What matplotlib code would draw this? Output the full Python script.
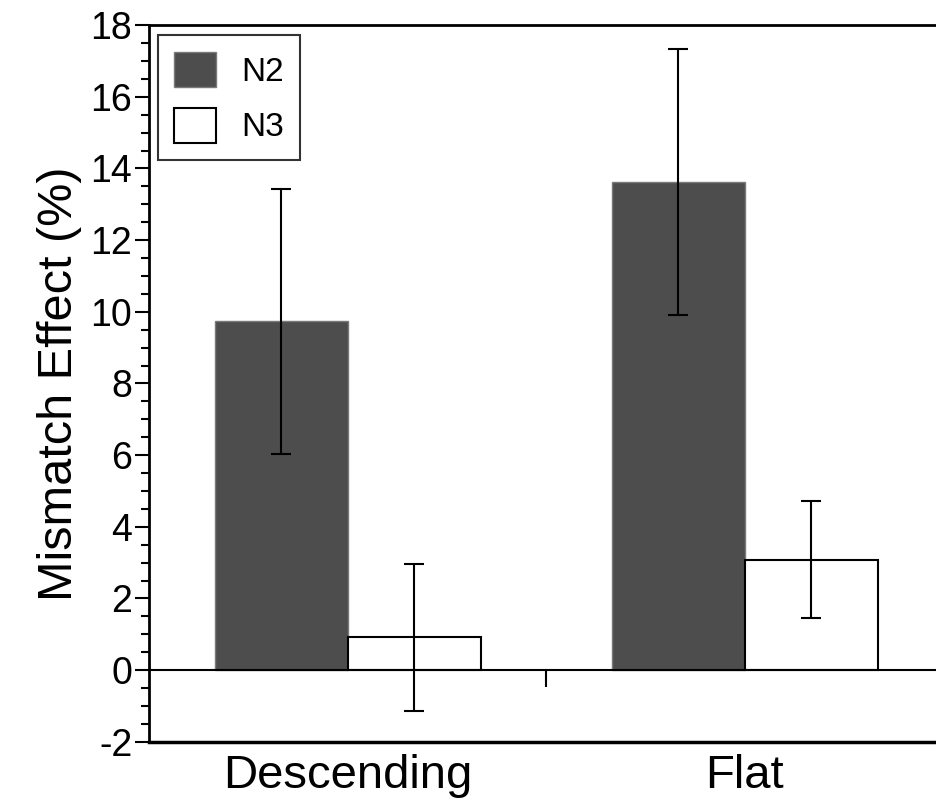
import numpy as np
import matplotlib.pyplot as plt
import matplotlib.transforms as mtransforms

plt.rcParams['font.family'] = ['Liberation Sans', 'DejaVu Sans']
plt.rcParams['axes.unicode_minus'] = False

# data
conditions = ['Descending', 'Flat']
n2_mean = [9.73, 13.62]
n2_err = [3.69, 3.71]
n3_mean = [0.92, 3.08]
n3_err = [2.05, 1.63]

fig = plt.figure(figsize=(9.37, 8.09), dpi=100)
ax = fig.add_axes([0.159, 0.083, 0.841, 0.886])

x = np.arange(len(conditions))
width = 0.335

ax.bar(x - width / 2, n2_mean, width, color='#4d4d4d', edgecolor='#7a7a7a',
       linewidth=1, label='N2', zorder=2)
ax.bar(x + width / 2, n3_mean, width, color='white', edgecolor='black',
       linewidth=1.5, label='N3', zorder=2)
ax.errorbar(x - width / 2, n2_mean, yerr=n2_err, fmt='none', ecolor='black',
            elinewidth=1.5, capsize=7, capthick=1.5, zorder=3)
ax.errorbar(x + width / 2, n3_mean, yerr=n3_err, fmt='none', ecolor='black',
            elinewidth=1.5, capsize=7, capthick=1.5, zorder=3)

ax.set_xlim(-0.501, 1.484)
ax.set_ylim(-2, 18)

# y axis ticks
ax.set_yticks(np.arange(-2, 19, 2))
ax.set_yticks(np.arange(-2, 18.1, 0.5), minor=True)
ax.tick_params(axis='y', which='major', direction='out', length=10, width=1.5,
               labelsize=27, pad=2)
ax.tick_params(axis='y', which='minor', direction='out', length=6, width=1.5)

# x axis sits on zero, with a single tick between the groups
ax.spines['bottom'].set_position(('data', 0))
ax.spines['bottom'].set_linewidth(1.5)
ax.set_xticks([x.mean()])
ax.set_xticklabels([''])
ax.tick_params(axis='x', direction='out', length=12, width=1.5)

ax.spines['right'].set_visible(False)
ax.spines['left'].set_linewidth(2)
ax.spines['top'].set_linewidth(2)
ax.axhline(-2, color='black', linewidth=2.5, clip_on=False, zorder=4)

trans = mtransforms.blended_transform_factory(ax.transData, ax.transAxes)
for xi, name in zip(x, conditions):
    ax.text(xi, -0.048, name, transform=trans, ha='center', va='center',
            fontsize=34)

ax.set_ylabel('Mismatch Effect (%)', fontsize=35, labelpad=6)

leg = ax.legend(loc='upper left', bbox_to_anchor=(0.011, 0.986), fontsize=24,
                frameon=True, fancybox=False, handlelength=1.25, handleheight=1.25,
                handletextpad=0.75, labelspacing=0.6, borderpad=0.5,
                borderaxespad=0)
leg.get_frame().set_edgecolor('black')
leg.get_frame().set_linewidth(1.5)

fig.savefig('out.png', dpi=100)
